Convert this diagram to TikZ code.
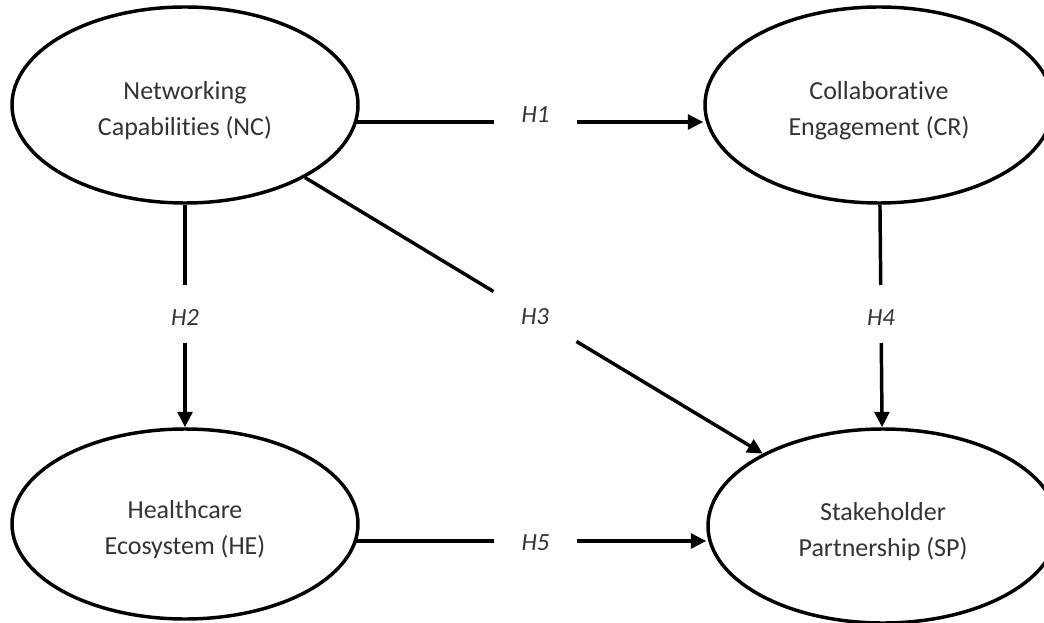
\documentclass[tikz,border=0pt]{standalone}
\usepackage{fontspec}
\setmainfont{Carlito}[Ligatures=NoCommon]
\usetikzlibrary{shapes.geometric,arrows.meta}
\pgfdeclarelayer{back}
\pgfsetlayers{back,main}
\newcommand\firststrut{\rule{0pt}{22.5pt}}
\begin{document}
\begin{tikzpicture}[x=0.75pt,y=-0.75pt,
  construct/.style={ellipse,draw=black,fill=white,line width=2.6pt,inner sep=0pt,align=center,
    text=black!80,font=\fontsize{19.5pt}{27pt}\selectfont},
  hyp/.style={inner sep=0pt,outer sep=0pt,minimum width=62.25pt,minimum height=43.5pt,
    text=black!80,font=\fontsize{18.5pt}{22pt}\selectfont\itshape},
  link/.style={line width=2.6pt,draw=black},
  arrowlink/.style={link,-{Triangle[length=11.5pt,width=11pt]}}]
\useasboundingbox (0,0) rectangle (1044,623);
\clip (0,0) rectangle (1044,623);
\begin{pgfonlayer}{back}
\fill[white] (0,0) rectangle (1044,623);
\end{pgfonlayer}

% constructs
\node[construct,minimum width=259.5pt,minimum height=147pt] (NC) at (185,105)
  {\firststrut Networking\\Capabilities (NC)};
\node[construct,minimum width=261pt,minimum height=147pt] (CE) at (879,105)
  {\firststrut Collaborative\\Engagement (CR)};
\node[construct,minimum width=259.5pt,minimum height=142.5pt] (HE) at (185,524)
  {\firststrut Healthcare\\Ecosystem (HE)};
\node[construct,minimum width=262.5pt,minimum height=145.5pt] (SP) at (883,526)
  {\firststrut Stakeholder\\Partnership (SP)};

% hypothesis labels (gap boxes)
\node[hyp,text height=11.9pt,text depth=10.5pt] (h1) at (535.5,122) {H1};
\node[hyp,text height=17.9pt,text depth=0pt] (h2) at (185,314) {H2};
\node[hyp,text height=11.9pt,text depth=0pt] (h3) at (535,316.5) {H3};
\node[hyp,text height=17.9pt,text depth=0pt] (h4) at (881,314) {H4};
\node[hyp,text height=14.9pt,text depth=0pt] (h5) at (535.5,541) {H5};

% connectors (tails run behind the white-filled ellipses)
\begin{pgfonlayer}{back}
\draw[link] (h1) -- (h1 -| NC.center);
\draw[link] (h5) -- (h5 -| HE.center);
\end{pgfonlayer}
\draw[arrowlink] (h1) -- (h1 -| CE.west);
\draw[link] (NC) -- (h2);
\draw[arrowlink] (h2) -- (HE);
\draw[link] (NC) -- (h3);
\draw[arrowlink] (h3) -- (SP);
\draw[link] (CE) -- (h4);
\draw[arrowlink] (h4) -- (SP);
\draw[arrowlink] (h5) -- (h5 -| SP.west);
\end{tikzpicture}
\end{document}
